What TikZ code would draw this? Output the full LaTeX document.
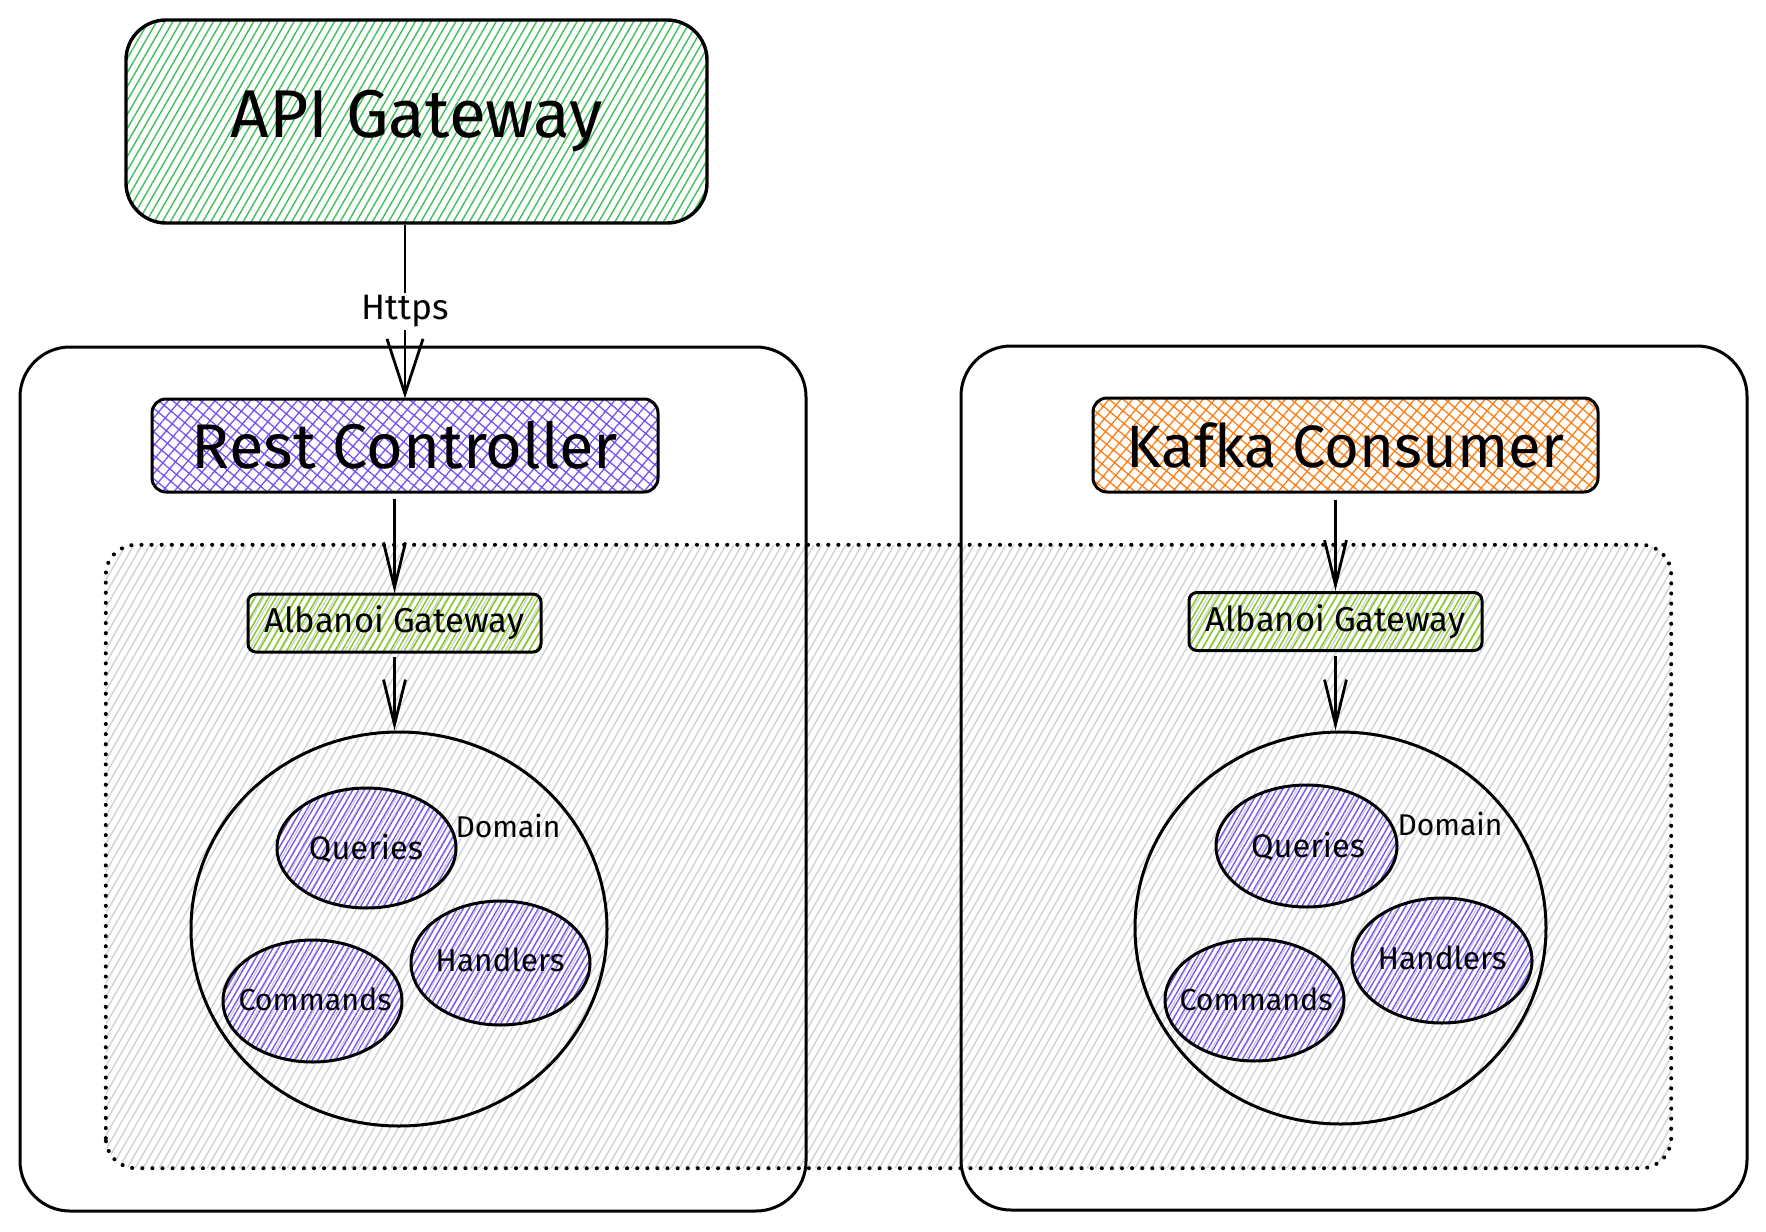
\documentclass[tikz,border=0pt]{standalone}
\usepackage{fontspec}
\setmainfont{Fira Sans}
\usetikzlibrary{patterns.meta,arrows.meta,shapes.geometric}
\definecolor{cgreen}{HTML}{40C057}
\definecolor{cviolet}{HTML}{7950F2}
\definecolor{corange}{HTML}{FD7E14}
\definecolor{clime}{HTML}{82C91E}
\definecolor{cgray}{HTML}{CED4DA}
\newcommand{\fw}[2]{\resizebox{#1pt}{!}{#2}}
\begin{document}
\begin{tikzpicture}[x=1pt,y=-1pt,
  sk/.style={draw=black, line width=3pt},
  boxnode/.style={sk, rectangle, inner sep=0pt, text=black},
  hg/.style={pattern={Lines[angle=60,distance=7pt,line width=1.4pt]}, pattern color=cgreen},
  hl/.style={pattern={Lines[angle=60,distance=6pt,line width=1.4pt]}, pattern color=clime},
  hv/.style={pattern={Lines[angle=60,distance=5pt,line width=1.3pt]}, pattern color=cviolet},
  xv/.style={pattern={Hatch[angle=50,distance=9pt,line width=1.3pt]}, pattern color=cviolet},
  xo/.style={pattern={Hatch[angle=50,distance=9pt,line width=1.3pt]}, pattern color=corange},
  grayline/.style={draw=cgray, line width=1.4pt},
  ellnode/.style={sk, ellipse, inner sep=0pt},
  txt/.style={inner sep=0pt, text=black},
  dotbox/.style={draw=black, line width=4pt, line cap=round, dash pattern=on 0.1pt off 10pt, rounded corners=30pt},
  arr/.style={draw=black, line width=2.8pt, -{Straight Barb[length=45pt,width=22pt]}},
  bigarr/.style={draw=black, line width=2.8pt, -{Straight Barb[length=55pt,width=36pt]}}
]
\useasboundingbox (0,0) rectangle (1766,1231);
\fill[white] (0,0) rectangle (1766,1231);

% shared dotted region
\node[rectangle, minimum width=1565pt, minimum height=623pt, inner sep=0pt] (shared) at (888.5,856.5) {};
\begin{scope}
  \clip[rounded corners=30pt] (shared.south west) rectangle (shared.north east);
  \foreach \i in {-370,-362,...,1680} {
    \draw[grayline] ({\i},1170) -- ({\i+361},543);
  }
\end{scope}
\draw[dotbox] (shared.south west) rectangle (shared.north east);

% outer containers
\node[boxnode, rounded corners=50pt, minimum width=786pt, minimum height=864pt] (left) at (413,779) {};
\node[boxnode, rounded corners=50pt, minimum width=786pt, minimum height=864pt] (right) at (1354,778) {};

% API gateway
\node[boxnode, hg, line width=3.4pt, rounded corners=40pt, minimum width=581pt, minimum height=203pt] (api) at (416.5,121.5) {\fw{372}{API Gateway}};

% Rest controller / Kafka consumer
\node[boxnode, xv, rounded corners=14pt, minimum width=506pt, minimum height=93pt] (rest) at (405,445.5) {\fw{426}{Rest Controller}};
\node[boxnode, xo, rounded corners=14pt, minimum width=505pt, minimum height=94pt] (kafka) at (1345.5,445) {\fw{437}{Kafka Consumer}};

% Albanoi gateways
\node[boxnode, hl, rounded corners=8pt, minimum width=293pt, minimum height=58pt] (agL) at (394.5,623) {\fw{259}{Albanoi Gateway}};
\node[boxnode, hl, rounded corners=8pt, minimum width=293pt, minimum height=58pt] (agR) at (1335.5,621.5) {\fw{259}{Albanoi Gateway}};

% Domains
\node[ellnode, minimum width=416pt, minimum height=394pt] (domL) at (399,929) {};
\node[ellnode, minimum width=411pt, minimum height=392pt] (domR) at (1340.5,928) {};
\node[txt] (domLlab) at (508,826) {\fw{105}{Domain}};
\node[txt] (domRlab) at (1450,824) {\fw{105}{Domain}};

% inner ellipses left
\node[ellnode, hv, minimum width=179pt, minimum height=120pt] (qL) at (366.5,848) {};
\node[ellnode, hv, minimum width=179pt, minimum height=124pt] (hL) at (500.5,963) {};
\node[ellnode, hv, minimum width=179pt, minimum height=122pt] (cL) at (312.5,1001) {};
\node[txt] (qLt) at (366,848) {\fw{114}{Queries}};
\node[txt] (hLt) at (500,960) {\fw{129}{Handlers}};
\node[txt] (cLt) at (315,999) {\fw{153}{Commands}};
% inner ellipses right
\node[ellnode, hv, minimum width=181pt, minimum height=122pt] (qR) at (1306.5,846) {};
\node[ellnode, hv, minimum width=180pt, minimum height=125pt] (hR) at (1442,960.5) {};
\node[ellnode, hv, minimum width=179pt, minimum height=122pt] (cR) at (1254.5,1000) {};
\node[txt] (qRt) at (1308,846) {\fw{114}{Queries}};
\node[txt] (hRt) at (1442,958) {\fw{129}{Handlers}};
\node[txt] (cRt) at (1256,999) {\fw{153}{Commands}};

% connectors
\draw[bigarr] (api.south -| rest.north) -- node[midway, fill=white, inner sep=3pt] (https) {\fw{87}{Https}} (rest.north);
\draw[arr, shorten <=6pt] (rest.south -| agL.north) -- (agL.north);
\draw[arr, shorten <=4pt] (agL.south) -- (agL.south |- domL.north);
\draw[arr, shorten <=6pt] (kafka.south -| agR.north) -- (agR.north);
\draw[arr, shorten <=4pt] (agR.south) -- (agR.south |- domR.north);
\end{tikzpicture}
\end{document}
